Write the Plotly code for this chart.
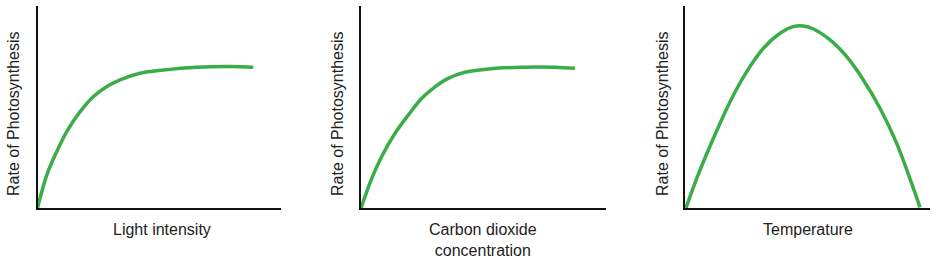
import plotly.graph_objects as go

# Data (relative units, axes 0-100)
light_x = [0, 3.8, 7.9, 12.0, 17.5, 22.9, 28.4, 33.9, 42.1, 51.7, 65.4, 79.1, 88.6]
light_y = [0, 16.3, 27.9, 37.8, 47.7, 55.1, 60.0, 63.4, 66.7, 68.3, 69.7, 70.0, 69.7]

co2_x = [0, 4.4, 8.4, 13.9, 19.3, 24.8, 30.2, 35.6, 42.4, 52.0, 65.6, 79.2, 87.3]
co2_y = [0, 14.7, 25.4, 37.0, 46.0, 54.3, 60.0, 64.2, 67.2, 68.8, 69.7, 69.7, 69.2]

temp_x = [0.4, 4.8, 11.6, 18.4, 25.2, 32.0, 38.8, 44.2, 48.3, 52.4, 59.2, 66.0, 72.8, 79.6, 86.4, 93.2, 95.9]
temp_y = [0, 14.7, 34.5, 52.6, 67.5, 79.1, 86.5, 89.8, 90.1, 88.6, 83.2, 74.9, 63.4, 49.4, 32.0, 9.8, 0.3]

x_titles = ["Light intensity", "Carbon dioxide<br>concentration", "Temperature"]
y_title = "Rate of Photosynthesis"

W, H = 940, 263
green = "#3aad48"
font_fam = "Liberation Sans, Arial, sans-serif"

x_domains = [(37.5 / W, 281 / W), (361 / W, 606 / W), (685 / W, 930 / W)]
y_domain = (1 - 208 / H, 1 - 6 / H)

fig = go.Figure()
series = [(light_x, light_y), (co2_x, co2_y), (temp_x, temp_y)]
for i, (xs, ys) in enumerate(series):
    n = "" if i == 0 else str(i + 1)
    fig.add_trace(go.Scatter(
        x=xs, y=ys, mode="lines",
        line=dict(color=green, width=3.5, shape="spline", smoothing=1.0),
        xaxis="x" + n, yaxis="y" + n, hoverinfo="skip", showlegend=False,
        cliponaxis=False,
    ))
    ax = dict(domain=list(x_domains[i]), range=[0, 100], showline=True, linecolor="#111",
              linewidth=2, showgrid=False, zeroline=False, showticklabels=False, ticks="",
              anchor="y" + n, fixedrange=True)
    ay = dict(domain=list(y_domain), range=[0, 100], showline=True, linecolor="#111",
              linewidth=2, showgrid=False, zeroline=False, showticklabels=False, ticks="",
              anchor="x" + n, fixedrange=True)
    fig.layout["xaxis" + n] = ax
    fig.layout["yaxis" + n] = ay

annotations = []
ytitle_x = [14, 338, 663]
xtitle_x = [162, 483, 808]
for i in range(3):
    annotations.append(dict(
        text=y_title, x=ytitle_x[i] / W, y=1 - 114 / H, xref="paper", yref="paper",
        textangle=-90, showarrow=False, xanchor="center", yanchor="middle",
        font=dict(family=font_fam, size=16, color="#222"),
    ))
    annotations.append(dict(
        text=x_titles[i], x=xtitle_x[i] / W, y=1 - 219 / H, xref="paper", yref="paper",
        showarrow=False, xanchor="center", yanchor="top",
        font=dict(family=font_fam, size=16, color="#222"),
    ))

fig.update_layout(
    width=W, height=H, margin=dict(l=0, r=0, t=0, b=0),
    paper_bgcolor="white", plot_bgcolor="white",
    annotations=annotations,
)

fig.write_html("out.html", config={"displayModeBar": False})
